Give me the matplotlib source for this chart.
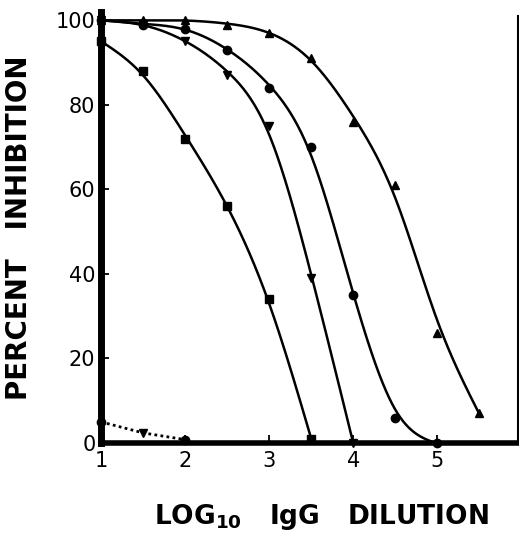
import numpy as np
import matplotlib
matplotlib.use("Agg")
import matplotlib.pyplot as plt

# Data (log10 IgG dilution vs percent inhibition)
x_sq = [1.0, 1.5, 2.0, 2.5, 3.0, 3.5]
y_sq = [95, 88, 72, 56, 34, 1]

x_vt = [1.0, 1.5, 2.0, 2.5, 3.0, 3.5, 4.0]
y_vt = [100, 99, 95, 87, 75, 39, 0]

x_ci = [1.0, 1.5, 2.0, 2.5, 3.0, 3.5, 4.0, 4.5, 5.0]
y_ci = [100, 99, 98, 93, 84, 70, 35, 6, 0]

x_tr = [1.0, 1.5, 2.0, 2.5, 3.0, 3.5, 4.0, 4.5, 5.0, 5.5]
y_tr = [100, 100, 100, 99, 97, 91, 76, 61, 26, 7]

x_ctrl = [1.0, 1.5, 2.0]
y_ctrl = [5, 2.4, 0.8]
m_ctrl = ['o', 'v', 'o']

xticks = [1, 2, 3, 4, 5]
yticks = [0, 20, 40, 60, 80, 100]


def smooth_curve(x, y, lam, per_step=60, end_w=8.0):
    """Penalised (Whittaker) smoothing curve drawn through the data points."""
    x = np.asarray(x, float)
    y = np.asarray(y, float)
    step = 0.5 / per_step
    n = int(round((x[-1] - x[0]) / step)) + 1
    xs = np.linspace(x[0], x[-1], n)
    idx = np.round((x - x[0]) / step).astype(int)
    W = np.zeros(n)
    W[idx] = 1.0
    W[idx[0]] = end_w
    W[idx[-1]] = end_w
    z = np.zeros(n)
    z[idx] = y
    D = np.diff(np.eye(n), 2, axis=0)
    A = np.diag(W) + (lam / step**3) * D.T @ D
    ys = np.linalg.solve(A, W * z)
    return xs, np.clip(ys, 0, 100)


fig = plt.figure(figsize=(5.19, 5.40), dpi=100)
ax = fig.add_axes([0.1946, 0.1796, 0.8034, 0.7984])

lw = 1.8
for xx, yy, mk, lam in [(x_sq, y_sq, 's', 7e-3), (x_vt, y_vt, 'v', 6e-3),
                        (x_ci, y_ci, 'o', 5e-3), (x_tr, y_tr, '^', 8e-3)]:
    xs, ys = smooth_curve(xx, yy, lam)
    ax.plot(xs, ys, color='black', lw=lw, solid_capstyle='butt', zorder=3)
    ax.plot(xx, yy, linestyle='none', marker=mk, color='black', markersize=6, zorder=4, clip_on=False)

ax.plot(x_ctrl, y_ctrl, color='black', lw=2.0, linestyle=(0, (1, 1.2)), zorder=3)
for xv, yv, mk in zip(x_ctrl, y_ctrl, m_ctrl):
    ax.plot([xv], [yv], marker=mk, color='black', markersize=6, linestyle='none', zorder=4, clip_on=False)

ax.set_xlim(1.0, 5.96)
ax.set_ylim(0, 102)
ax.set_xticks(xticks)
ax.set_yticks(yticks)
ax.set_xticklabels([str(v) for v in xticks])
ax.set_yticklabels([str(v) for v in yticks])

ax.spines['top'].set_visible(False)
ax.spines['left'].set_linewidth(5)
ax.spines['bottom'].set_linewidth(4)
ax.spines['right'].set_linewidth(1.5)
ax.spines['right'].set_bounds(0, 101)

ax.tick_params(direction='in', length=6, width=1.3, labelsize=15, pad=6)
ax.tick_params(axis='y', pad=4)

ax.set_ylabel('PERCENT   INHIBITION', fontsize=20, fontweight='bold', labelpad=16)
fig.text(0.62, 0.015, r'LOG$_{\mathbf{10}}$   IgG   DILUTION', fontsize=19, fontweight='bold',
         ha='center', va='bottom')

fig.savefig('out.png', dpi=100)
